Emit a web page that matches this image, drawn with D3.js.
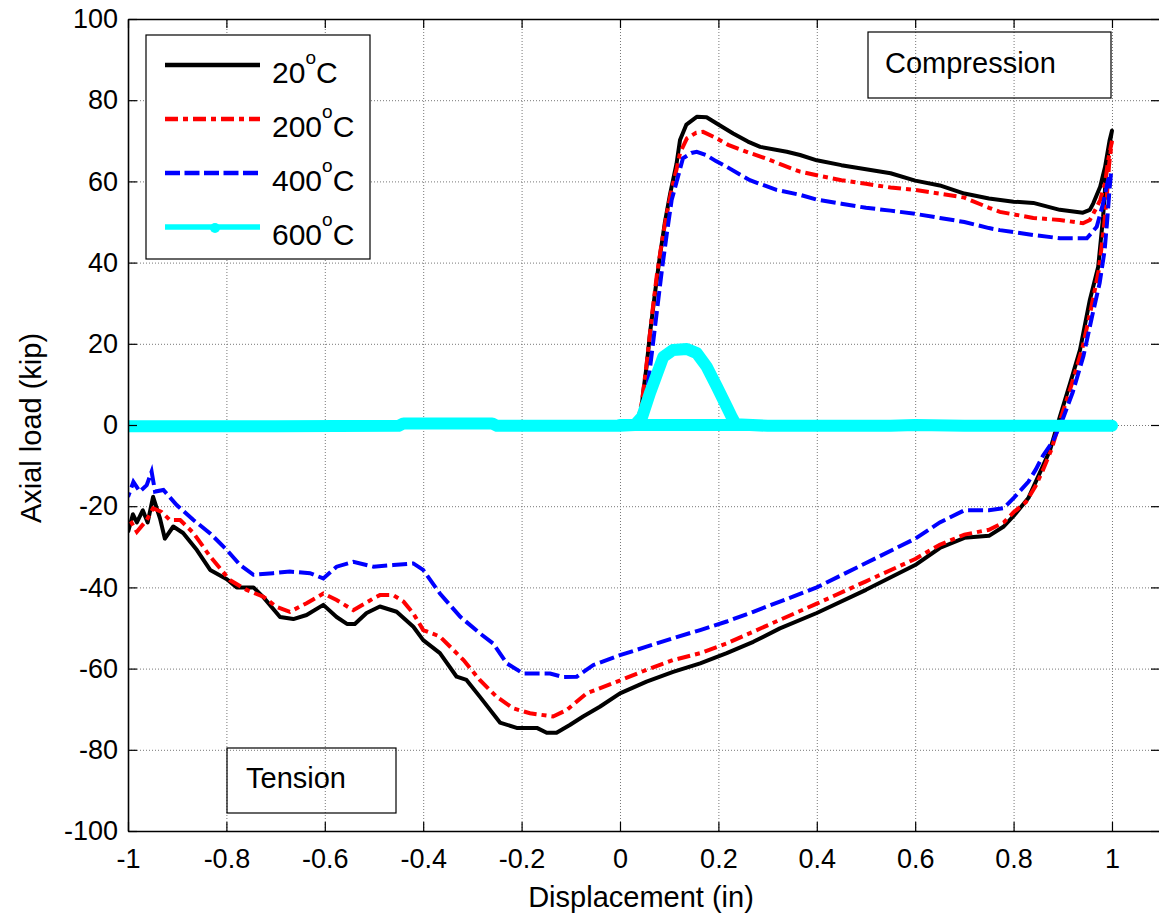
<!DOCTYPE html>
<html>
<head>
<meta charset="utf-8">
<script src="https://cdn.jsdelivr.net/npm/d3@7"></script>
<style>
  body { margin: 0; background: #fff; }
  svg { display: block; font-family: "Liberation Sans", Arial, sans-serif; }
</style>
</head>
<body>
<script>
// values
var xTicks = [-1, -0.8, -0.6, -0.4, -0.2, 0, 0.2, 0.4, 0.6, 0.8, 1];
var yTicks = [-100, -80, -60, -40, -20, 0, 20, 40, 60, 80, 100];
var seriesNames = ["20", "200", "400", "600"];

var load20 = [[0.03, 0], [0.041, 1.2], [0.047, 7.8], [0.054, 14.4], [0.061, 22.6], [0.071, 32.4], [0.081, 41.5], [0.091, 49.7], [0.102, 57], [0.115, 64.4], [0.122, 70.2], [0.135, 74], [0.156, 75.9], [0.176, 75.8], [0.2, 74], [0.23, 71.8], [0.26, 69.8], [0.285, 68.5], [0.339, 67.3], [0.366, 66.5], [0.4, 65.2], [0.45, 64], [0.5, 63], [0.55, 62], [0.6, 60.2], [0.65, 59], [0.7, 57], [0.75, 55.8], [0.8, 55], [0.84, 54.7], [0.894, 53], [0.941, 52.3], [0.955, 53], [0.962, 54.6], [0.976, 58.7], [0.986, 63.6], [0.995, 70], [1.0, 72.5],
  [0.993, 67.7], [0.989, 63.6], [0.982, 51.3], [0.972, 39], [0.955, 30.8], [0.935, 18.5], [0.915, 10.3], [0.894, 2], [0.874, -6.2], [0.86, -10], [0.845, -14], [0.83, -18], [0.8, -22.4], [0.78, -25], [0.75, -27.3], [0.7, -27.8], [0.65, -30.3], [0.6, -34.5], [0.5, -40.6], [0.4, -46.3], [0.325, -50.1], [0.271, -53.4], [0.217, -56.2], [0.163, -58.7], [0.108, -60.8], [0.054, -63.2], [0.0, -66.1], [-0.041, -69.4], [-0.075, -71.8], [-0.102, -73.9], [-0.129, -75.8], [-0.149, -75.8], [-0.169, -74.6], [-0.21, -74.6], [-0.244, -73.3], [-0.285, -66.9], [-0.312, -62.8], [-0.332, -62], [-0.366, -56.2], [-0.4, -53], [-0.42, -49.7], [-0.454, -46], [-0.488, -44.7], [-0.515, -46.3], [-0.539, -49], [-0.555, -49], [-0.576, -47.3], [-0.603, -44.3], [-0.637, -46.8], [-0.664, -47.8], [-0.691, -47.3], [-0.725, -42.4], [-0.745, -40], [-0.779, -40], [-0.799, -38], [-0.833, -35.7], [-0.86, -30.8], [-0.888, -26.6], [-0.908, -25], [-0.925, -28], [-0.935, -23], [-0.949, -17.7], [-0.96, -24], [-0.97, -21], [-0.982, -24], [-0.99, -22], [-1.0, -26.4]];

var load200 = [[0.035, 0], [0.045, 6], [0.055, 16], [0.065, 27], [0.075, 37], [0.085, 45], [0.095, 52], [0.105, 58], [0.115, 63], [0.122, 67], [0.136, 70.6], [0.155, 72], [0.169, 72.2], [0.19, 71], [0.22, 69], [0.264, 67], [0.3, 65.5], [0.331, 64], [0.366, 62.4], [0.4, 61.5], [0.45, 60.3], [0.5, 59.4], [0.55, 58.5], [0.6, 57.9], [0.65, 57], [0.7, 56], [0.75, 53.5], [0.772, 52.5], [0.84, 51], [0.894, 50.5], [0.941, 49.7], [0.955, 50.5], [0.962, 52], [0.976, 55.4], [0.986, 59.6], [0.992, 65], [1.0, 70],
  [0.994, 64], [0.99, 57], [0.983, 48], [0.973, 38], [0.958, 29], [0.94, 19], [0.918, 10], [0.897, 2], [0.877, -6], [0.86, -11], [0.845, -15], [0.825, -19], [0.8, -21.5], [0.78, -24], [0.75, -25.8], [0.7, -27], [0.65, -29.5], [0.6, -33], [0.5, -38.5], [0.4, -44], [0.325, -48], [0.271, -50.9], [0.217, -53.8], [0.163, -56.2], [0.108, -57.9], [0.054, -60.3], [-0.014, -63.6], [-0.068, -66.1], [-0.108, -70.2], [-0.136, -71.8], [-0.183, -71], [-0.217, -69.8], [-0.251, -66.9], [-0.285, -62.8], [-0.318, -57.9], [-0.366, -52.1], [-0.4, -50.5], [-0.42, -46.4], [-0.44, -43.5], [-0.461, -41.9], [-0.488, -41.9], [-0.501, -42.7], [-0.542, -45.6], [-0.576, -43.1], [-0.603, -41.5], [-0.637, -43.9], [-0.671, -46], [-0.698, -44.8], [-0.725, -42.3], [-0.759, -40.6], [-0.793, -38.2], [-0.833, -32.4], [-0.867, -26.6], [-0.894, -23.4], [-0.915, -23.4], [-0.932, -21.4], [-0.949, -20.5], [-0.962, -23.4], [-0.982, -26.3], [-0.996, -23.4], [-1.0, -24]];

var load400 = [[0.045, 0], [0.055, 8], [0.065, 18], [0.075, 28], [0.085, 38], [0.095, 47], [0.105, 55.4], [0.118, 61.2], [0.128, 65.7], [0.145, 67], [0.156, 67.3], [0.175, 66.5], [0.195, 65], [0.217, 63.6], [0.264, 60.3], [0.318, 57.9], [0.366, 56.7], [0.4, 55.5], [0.45, 54.5], [0.5, 53.5], [0.55, 52.8], [0.6, 52], [0.65, 51], [0.7, 50], [0.75, 48.5], [0.772, 48], [0.84, 46.8], [0.894, 46], [0.949, 46], [0.969, 48.8], [0.982, 54.6], [0.992, 60.3], [0.998, 62],
  [0.995, 58], [0.99, 50], [0.985, 43], [0.975, 35], [0.96, 27], [0.942, 17], [0.92, 8], [0.9, 1.5], [0.88, -4], [0.86, -7.5], [0.845, -11], [0.83, -14], [0.8, -18], [0.78, -20.5], [0.75, -21], [0.7, -21], [0.65, -24], [0.6, -28], [0.5, -34], [0.4, -40], [0.325, -43.5], [0.271, -46], [0.217, -48.4], [0.163, -50.5], [0.108, -52.5], [0.054, -54.6], [0.0, -56.7], [-0.054, -59.1], [-0.088, -62], [-0.115, -62.1], [-0.142, -61.2], [-0.197, -61.2], [-0.23, -58.7], [-0.258, -53.8], [-0.285, -51.3], [-0.325, -47.2], [-0.366, -41.5], [-0.4, -35.7], [-0.42, -34.1], [-0.461, -34.5], [-0.501, -34.9], [-0.542, -33.7], [-0.576, -34.9], [-0.603, -37.8], [-0.63, -36.5], [-0.671, -36.1], [-0.705, -36.5], [-0.745, -36.9], [-0.772, -34.5], [-0.799, -30.8], [-0.833, -26.7], [-0.867, -23.4], [-0.901, -19.7], [-0.928, -16], [-0.945, -16.4], [-0.952, -11.5], [-0.962, -14.8], [-0.976, -16.4], [-0.989, -14], [-1.0, -17.7]];

var load600 = [[-1, -0.3], [-0.7, -0.3], [-0.45, -0.2], [-0.44, 0.4], [-0.26, 0.4], [-0.25, -0.2], [0.0, -0.2], [0.03, 0], [0.045, 2], [0.061, 7.9], [0.075, 12.5], [0.088, 16.8], [0.108, 18.5], [0.136, 18.7], [0.156, 17.7], [0.176, 14.4], [0.197, 9.4], [0.217, 4.5], [0.227, 2], [0.235, 0.2], [0.3, -0.2], [0.55, -0.2], [0.6, 0], [0.7, -0.2], [1.0, -0.2]];
var load600base = [[0.0, 0], [0.26, 0]];

var W = 1159, H = 918;
var pLeft = 128, pRight = 1160, pTop = 19, pBottom = 831;

var svg = d3.select("body").append("svg")
  .attr("width", W)
  .attr("height", H);

var x = d3.scaleLinear().domain([-1, 1.0976]).range([pLeft, pRight]);
var y = d3.scaleLinear().domain([-100, 100]).range([pBottom, pTop]);

svg.append("clipPath").attr("id", "plotclip")
  .append("rect").attr("x", pLeft).attr("y", pTop - 10).attr("width", pRight - pLeft + 10).attr("height", pBottom - pTop + 20);

// grid
var gx = svg.append("g").attr("transform", "translate(0," + pBottom + ")")
  .call(d3.axisBottom(x).tickValues(xTicks).tickSize(-(pBottom - pTop)).tickFormat(""));
var gy = svg.append("g").attr("transform", "translate(" + pLeft + ",0)")
  .call(d3.axisLeft(y).tickValues(yTicks).tickSize(-(pRight - pLeft)).tickFormat(""));
[gx, gy].forEach(function (g) {
  g.select(".domain").remove();
  g.selectAll("line").attr("stroke", "#777").attr("stroke-width", 1).attr("stroke-dasharray", "1,2");
});

// series lines
var line = d3.line().x(function (d) { return x(d[0]); }).y(function (d) { return y(d[1]); });
var plot = svg.append("g").attr("clip-path", "url(#plotclip)");

plot.append("path").datum(load20).attr("d", line)
  .attr("fill", "none").attr("stroke", "#000").attr("stroke-width", 4)
  .attr("stroke-linejoin", "round");
plot.append("path").datum(load200).attr("d", line)
  .attr("fill", "none").attr("stroke", "#ff0000").attr("stroke-width", 4)
  .attr("stroke-dasharray", "13,5,5,5");
plot.append("path").datum(load400).attr("d", line)
  .attr("fill", "none").attr("stroke", "#0000ff").attr("stroke-width", 4)
  .attr("stroke-dasharray", "15,5");
[load600, load600base].forEach(function (s) {
  plot.append("path").datum(s).attr("d", line)
    .attr("fill", "none").attr("stroke", "#00ffff").attr("stroke-width", 12)
    .attr("stroke-linejoin", "round").attr("stroke-linecap", "round");
});

// axes with inward ticks
var fmt = function (d) { return String(d); };
var axB = svg.append("g").attr("transform", "translate(0," + pBottom + ")")
  .call(d3.axisBottom(x).tickValues(xTicks).tickSize(-9).tickSizeOuter(0).tickPadding(18).tickFormat(fmt));
var axL = svg.append("g").attr("transform", "translate(" + pLeft + ",0)")
  .call(d3.axisLeft(y).tickValues(yTicks).tickSize(-9).tickSizeOuter(0).tickPadding(10).tickFormat(fmt));
var axT = svg.append("g").attr("transform", "translate(0," + pTop + ")")
  .call(d3.axisTop(x).tickValues(xTicks).tickSize(-9).tickSizeOuter(0).tickFormat(""));
var axR = svg.append("g").attr("transform", "translate(" + pRight + ",0)")
  .call(d3.axisRight(y).tickValues(yTicks).tickSize(-9).tickSizeOuter(0).tickFormat(""));
[axB, axL, axT, axR].forEach(function (g) {
  g.attr("font-size", 27).attr("font-family", "'Liberation Sans', Arial, sans-serif");
  g.select(".domain").attr("stroke", "#000").attr("stroke-width", 1.6);
  g.selectAll(".tick line").attr("stroke", "#000").attr("stroke-width", 1.2);
  g.selectAll("text").attr("fill", "#000");
});

// axis titles
svg.append("text").attr("x", 641).attr("y", 907).attr("text-anchor", "middle")
  .attr("font-size", 29).text("Displacement (in)");
svg.append("text").attr("transform", "translate(41,428) rotate(-90)").attr("text-anchor", "middle")
  .attr("font-size", 29).text("Axial load (kip)");

// legend
var legend = svg.append("g");
legend.append("rect").attr("x", 146).attr("y", 35).attr("width", 224).attr("height", 224)
  .attr("fill", "#fff").attr("stroke", "#000").attr("stroke-width", 1.2);
var legendStyles = [
  { color: "#000", dash: null, width: 4.5 },
  { color: "#ff0000", dash: "13,5,5,5", width: 4.5 },
  { color: "#0000ff", dash: "15,4.5", width: 4.5 },
  { color: "#00ffff", dash: null, width: 5.5 }
];
seriesNames.forEach(function (name, i) {
  var ly = 65 + i * 54;
  var st = legendStyles[i];
  legend.append("line").attr("x1", 165).attr("x2", 260).attr("y1", ly).attr("y2", ly)
    .attr("stroke", st.color).attr("stroke-width", st.width)
    .attr("stroke-dasharray", st.dash);
  if (i === 3) {
    legend.append("circle").attr("cx", 215).attr("cy", ly + 1).attr("r", 5).attr("fill", st.color);
  }
  var t = legend.append("text").attr("x", 272).attr("y", ly + 18).attr("font-size", 30);
  t.append("tspan").text(name);
  t.append("tspan").attr("font-size", 19).attr("dy", -19).text("o");
  t.append("tspan").attr("dy", 19).text("C");
});

// annotation boxes
svg.append("rect").attr("x", 868).attr("y", 32).attr("width", 243).attr("height", 66)
  .attr("fill", "none").attr("stroke", "#000").attr("stroke-width", 1.2);
svg.append("text").attr("x", 885).attr("y", 73).attr("font-size", 29).text("Compression");
svg.append("rect").attr("x", 227).attr("y", 748).attr("width", 169).attr("height", 65)
  .attr("fill", "none").attr("stroke", "#000").attr("stroke-width", 1.2);
svg.append("text").attr("x", 246).attr("y", 788).attr("font-size", 29).text("Tension");
</script>
</body>
</html>
